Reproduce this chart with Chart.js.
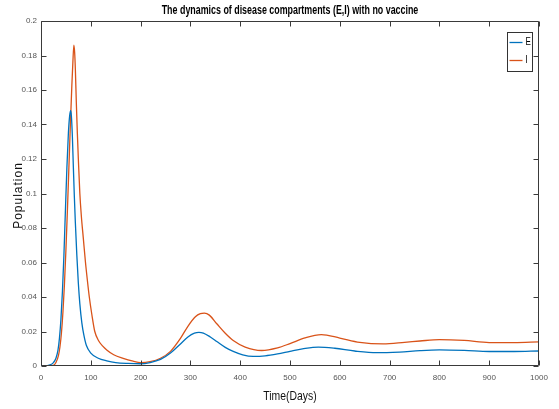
<!DOCTYPE html>
<html lang="en">
<head>
<meta charset="UTF-8">
<title>The dynamics of disease compartments (E,I) with no vaccine</title>
<script src="https://cdn.jsdelivr.net/npm/chart.js"></script>
<style>
  html, body { margin: 0; padding: 0; background: #fff; }
</style>
</head>
<body>
<canvas id="myChart" width="559" height="409"></canvas>

<script>
  // Exposed compartment E (fraction of population) against time in days
  const eDays   = [0, 10, 18, 25, 30, 34, 37, 40, 43, 46, 49, 52, 55, 57.5, 59.5, 61, 63, 65, 67, 69, 72, 75, 78, 82, 86, 91, 100, 115, 132, 150, 175, 200, 219, 240, 260, 280, 295, 308, 317, 326, 340, 353, 370, 386, 405, 426, 450, 475, 500, 525, 557, 590, 630, 674, 720, 761, 800, 850, 900, 950, 1000];
  const eValues = [0, 0.0001, 0.0006, 0.002, 0.0045, 0.009, 0.016, 0.027, 0.043, 0.064, 0.09, 0.115, 0.135, 0.145, 0.148, 0.145, 0.133, 0.115, 0.098, 0.083, 0.064, 0.048, 0.036, 0.025, 0.018, 0.012, 0.0075, 0.0045, 0.003, 0.002, 0.0015, 0.0013, 0.002, 0.0038, 0.0075, 0.0128, 0.0168, 0.019, 0.0195, 0.0191, 0.0168, 0.0142, 0.0108, 0.0085, 0.0065, 0.0056, 0.0059, 0.007, 0.0085, 0.0099, 0.011, 0.0103, 0.0087, 0.0077, 0.0081, 0.0089, 0.0093, 0.009, 0.0084, 0.0084, 0.0087];

  // Infected compartment I
  const iDays   = [0, 15, 26, 30, 35, 38, 41, 44, 47, 50, 53, 56, 59, 62, 64, 66, 67.5, 69, 71, 73, 75, 78, 81, 85, 89, 93, 97, 102, 108, 116, 124, 132, 146, 165, 185, 200, 219, 240, 260, 280, 295, 310, 320, 328, 338, 353, 370, 386, 410, 443, 475, 500, 530, 563, 600, 640, 687, 730, 761, 800, 850, 900, 950, 1000];
  const iValues = [0, 0.0001, 0.0006, 0.002, 0.006, 0.011, 0.019, 0.031, 0.047, 0.067, 0.09, 0.115, 0.14, 0.163, 0.176, 0.186, 0.182, 0.172, 0.152, 0.135, 0.12, 0.1, 0.087, 0.074, 0.061, 0.05, 0.04, 0.03, 0.02, 0.0145, 0.0115, 0.0093, 0.0065, 0.0044, 0.0028, 0.002, 0.0025, 0.0045, 0.0085, 0.016, 0.023, 0.0285, 0.0303, 0.0306, 0.0295, 0.0245, 0.019, 0.0148, 0.011, 0.009, 0.0105, 0.013, 0.0163, 0.0182, 0.0162, 0.0137, 0.0128, 0.0137, 0.0145, 0.0153, 0.0148, 0.0136, 0.0136, 0.014];

  const xTicks = [0, 100, 200, 300, 400, 500, 600, 700, 800, 900, 1000];
  const yTicks = [0, 0.02, 0.04, 0.06, 0.08, 0.1, 0.12, 0.14, 0.16, 0.18, 0.2];

  const seriesNames = ['E', 'I'];
  const seriesColors = ['#0072BD', '#D95319'];

  const sans = "'Liberation Sans', Arial, sans-serif";

  const toPoints = (xs, ys) => xs.map((d, i) => ({ x: d, y: ys[i] }));

  // squeezed text, the fonts here have no condensed face
  function narrowText(ctx, text, x, y, sx) {
    ctx.save();
    ctx.translate(x, y);
    ctx.scale(sx, 1);
    ctx.fillText(text, 0, 0);
    ctx.restore();
  }

  // box round the axes, ticks pointing inwards, titles and legend
  const axesBox = {
    id: 'axesBox',
    afterDatasetsDraw(chart) {
      const { ctx, chartArea: a, scales: { x, y } } = chart;
      const L = Math.round(a.left) + 0.5, R = Math.round(a.right) - 0.5;
      const T = Math.round(a.top) + 0.5, B = Math.round(a.bottom) - 0.5;
      const tl = 5;
      ctx.save();
      ctx.strokeStyle = '#3a3a3a';
      ctx.lineWidth = 1;
      ctx.beginPath();
      ctx.rect(L, T, R - L, B - T);
      xTicks.forEach(v => {
        const px = Math.round(x.getPixelForValue(v)) + 0.5;
        ctx.moveTo(px, B); ctx.lineTo(px, B - tl);
        ctx.moveTo(px, T); ctx.lineTo(px, T + tl);
      });
      yTicks.forEach(v => {
        const py = Math.round(y.getPixelForValue(v)) + 0.5;
        ctx.moveTo(L, py); ctx.lineTo(L + tl, py);
        ctx.moveTo(R, py); ctx.lineTo(R - tl, py);
      });
      ctx.stroke();

      ctx.textAlign = 'center';
      ctx.textBaseline = 'middle';

      // chart title
      ctx.fillStyle = '#000';
      ctx.font = 'bold 12px ' + sans;
      narrowText(ctx, 'The dynamics of disease compartments (E,I) with no vaccine', (a.left + a.right) / 2, 11, 0.74);

      // axis titles
      ctx.fillStyle = '#111';
      ctx.font = '13px ' + sans;
      narrowText(ctx, 'Time(Days)', (a.left + a.right) / 2, 396, 0.8);

      ctx.save();
      ctx.translate(19, (a.top + a.bottom) / 2 + 2);
      ctx.rotate(-Math.PI / 2);
      ctx.font = '12px ' + sans;
      ctx.letterSpacing = '1px';
      ctx.fillText('Population', 0, 0);
      ctx.restore();

      // legend
      const bx = Math.round(a.right) - 31.5, by = Math.round(a.top) + 11.5;
      ctx.fillStyle = '#fff';
      ctx.fillRect(bx, by, 25, 39);
      ctx.strokeStyle = '#333';
      ctx.lineWidth = 1;
      ctx.strokeRect(bx, by, 25, 39);
      ctx.font = '10px ' + sans;
      ctx.textAlign = 'left';
      seriesNames.forEach((name, i) => {
        const ly = by + 10 + i * 18;
        ctx.strokeStyle = seriesColors[i];
        ctx.lineWidth = 1.3;
        ctx.beginPath();
        ctx.moveTo(bx + 2, ly); ctx.lineTo(bx + 15, ly);
        ctx.stroke();
        ctx.fillStyle = '#000';
        narrowText(ctx, name, bx + 18, ly, 0.8);
      });
      ctx.restore();
    }
  };

  const tickFont = { family: sans, size: 8 };

  const config = {
    type: 'line',
    data: {
      datasets: seriesNames.map((name, i) => ({
        label: name,
        data: i === 0 ? toPoints(eDays, eValues) : toPoints(iDays, iValues),
        borderColor: seriesColors[i],
        borderWidth: 1.3,
        pointRadius: 0,
        fill: false,
        cubicInterpolationMode: 'monotone'
      }))
    },
    options: {
      responsive: false,
      animation: false,
      layout: { padding: { top: 21, right: 20, left: 0, bottom: 0 } },
      plugins: {
        legend: { display: false },
        title: { display: false },
        tooltip: { enabled: false }
      },
      scales: {
        x: {
          type: 'linear',
          min: 0,
          max: 1000,
          afterBuildTicks: s => { s.ticks = xTicks.map(v => ({ value: v })); },
          afterFit: s => { s.height = 43; },
          grid: { display: false, drawTicks: false },
          border: { display: false },
          ticks: {
            font: tickFont,
            color: '#555',
            padding: 7,
            maxRotation: 0,
            autoSkip: false,
            callback: v => String(v)
          }
        },
        y: {
          min: 0,
          max: 0.2,
          afterBuildTicks: s => { s.ticks = yTicks.map(v => ({ value: v })); },
          afterFit: s => { s.width = 41; },
          grid: { display: false, drawTicks: false },
          border: { display: false },
          ticks: {
            font: tickFont,
            color: '#555',
            padding: 4,
            autoSkip: false,
            callback: v => String(+v.toFixed(2))
          }
        }
      }
    },
    plugins: [axesBox]
  };

  const ctx = document.getElementById('myChart').getContext('2d');
  const myChart = new Chart(ctx, config);
</script>
</body>
</html>
